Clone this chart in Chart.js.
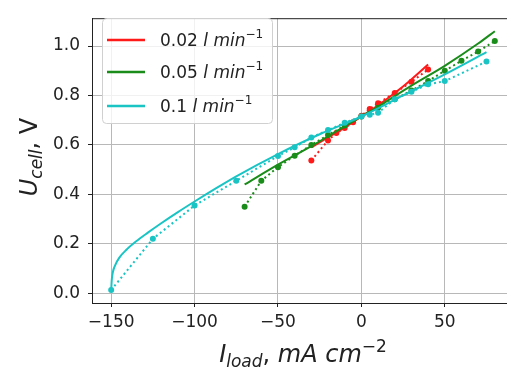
<!DOCTYPE html>
<html>
<head>
<meta charset="utf-8">
<script src="https://cdn.jsdelivr.net/npm/chart.js@4"></script>
<style>
  html, body { margin: 0; padding: 0; background: #fff; overflow: hidden; }
  #wrap { position: absolute; left: 0; top: 0; width: 520px; height: 374px; }
</style>
</head>
<body>
<div id="wrap"><canvas id="chart" width="520" height="374"></canvas></div>
<script>
// measured points, 0.02 l/min
const redX = [-30, -20, -15, -10, -5, 0, 5, 10, 20, 30, 40];
const redY = [0.537, 0.618, 0.648, 0.668, 0.692, 0.718, 0.745, 0.768, 0.81, 0.855, 0.905];
// fit curve
const redFitX = [-30, -20, -10, 0, 10, 20, 30, 40];
const redFitY = [0.59, 0.63, 0.67, 0.715, 0.76, 0.81, 0.865, 0.925];

// 0.05 l/min
const greenX = [-70, -60, -50, -40, -30, -20, -10, 0, 10, 20, 30, 40, 50, 60, 70, 80];
const greenY = [0.35, 0.455, 0.51, 0.556, 0.6, 0.64, 0.678, 0.715, 0.75, 0.785, 0.82, 0.858, 0.9, 0.94, 0.978, 1.02];
const greenFitX = [-70, -50, -30, -10, 0, 10, 30, 50, 70, 80];
const greenFitY = [0.44, 0.52, 0.595, 0.675, 0.715, 0.755, 0.84, 0.92, 1.01, 1.06];

// 0.1 l/min
const cyanX = [-150, -125, -100, -75, -50, -40, -30, -20, -10, 0, 5, 10, 20, 30, 40, 50, 75];
const cyanY = [0.013, 0.22, 0.355, 0.455, 0.555, 0.59, 0.63, 0.66, 0.69, 0.715, 0.722, 0.73, 0.785, 0.815, 0.845, 0.858, 0.937];
const cyanFitX = [-150, -149.7, -149, -147.5, -145, -141, -135, -128, -120, -110, -100, -88, -75, -50, -25, 0, 25, 50, 75];
const cyanFitY = [0.01, 0.05, 0.085, 0.115, 0.145, 0.175, 0.21, 0.245, 0.283, 0.328, 0.371, 0.421, 0.473, 0.563, 0.643, 0.715, 0.8, 0.885, 0.975];

const seriesLabels = ['0.02', '0.05', '0.1'];
const seriesColors = ['#ff1a1a', '#1a8c1a', '#1ac4c4'];

const xTicks = [-150, -100, -50, 0, 50];
const yTicks = [0.0, 0.2, 0.4, 0.6, 0.8, 1.0];

const FONT = '"DejaVu Sans", sans-serif';

function pts(xs, ys) {
  return xs.map((x, i) => ({ x: x, y: ys[i] }));
}

function measured(xs, ys, color, order) {
  return {
    data: pts(xs, ys),
    showLine: true,
    borderColor: color,
    backgroundColor: color,
    borderWidth: 2,
    borderDash: [2, 3],
    pointRadius: 3,
    pointBorderWidth: 0,
    pointHoverRadius: 3,
    order: order
  };
}

function fit(xs, ys, color, order) {
  return {
    data: pts(xs, ys),
    showLine: true,
    borderColor: color,
    backgroundColor: color,
    borderWidth: 2,
    pointRadius: 0,
    cubicInterpolationMode: 'monotone',
    order: order
  };
}

// draw a run of text pieces (italic / sub / superscript), centred on cx
function richText(ctx, parts, cx, y) {
  let total = 0;
  parts.forEach(p => {
    ctx.font = (p.it ? 'italic ' : '') + p.size + 'px ' + FONT;
    p.w = ctx.measureText(p.t).width;
    total += p.w;
  });
  let x = cx - total / 2;
  ctx.textAlign = 'left';
  ctx.textBaseline = 'alphabetic';
  parts.forEach(p => {
    ctx.font = (p.it ? 'italic ' : '') + p.size + 'px ' + FONT;
    ctx.fillText(p.t, x, y + (p.dy || 0));
    x += p.w;
  });
  return total;
}

const extras = {
  id: 'extras',
  afterDraw(chart) {
    const ctx = chart.ctx;
    const a = chart.chartArea;
    ctx.save();
    // frame (top and right spines)
    ctx.strokeStyle = '#222';
    ctx.lineWidth = 1;
    ctx.beginPath();
    ctx.moveTo(a.left, a.top + 0.5);
    ctx.lineTo(a.right, a.top + 0.5);
    ctx.lineTo(a.right, a.bottom);
    ctx.stroke();

    ctx.fillStyle = '#222';
    // x axis title
    richText(ctx, [
      { t: 'I', it: true, size: 24 },
      { t: 'load', it: true, size: 17, dy: 5 },
      { t: ', ', it: false, size: 24 },
      { t: 'mA', it: true, size: 24 },
      { t: ' cm', it: true, size: 24 },
      { t: '\u22122', it: false, size: 17, dy: -10 }
    ], (a.left + a.right) / 2, 362);

    // y axis title
    ctx.save();
    ctx.translate(37, 157);
    ctx.rotate(-Math.PI / 2);
    richText(ctx, [
      { t: 'U', it: true, size: 24 },
      { t: 'cell', it: true, size: 17, dy: 5 },
      { t: ', V', it: false, size: 24 }
    ], 0, 0);
    ctx.restore();

    // legend box
    const bx = 102.5, by = 18.5, bw = 170, bh = 105, r = 4;
    ctx.beginPath();
    ctx.roundRect(bx, by, bw, bh, r);
    ctx.fillStyle = 'rgba(255,255,255,0.8)';
    ctx.fill();
    ctx.strokeStyle = '#d0d0d0';
    ctx.stroke();
    const rows = [40, 72, 106];
    seriesLabels.forEach((lab, i) => {
      const yy = rows[i];
      ctx.strokeStyle = seriesColors[i];
      ctx.lineWidth = 2.5;
      ctx.beginPath();
      ctx.moveTo(107, yy);
      ctx.lineTo(145, yy);
      ctx.stroke();
      ctx.fillStyle = '#222';
      const parts = [
        { t: lab + ' ', it: false, size: 17 },
        { t: 'l min', it: true, size: 17 },
        { t: '\u22121', it: false, size: 12, dy: -8 }
      ];
      let w = 0;
      parts.forEach(p => {
        ctx.font = (p.it ? 'italic ' : '') + p.size + 'px ' + FONT;
        w += ctx.measureText(p.t).width;
      });
      richText(ctx, parts, 160 + w / 2, yy + 6);
    });
    ctx.restore();
  }
};

new Chart(document.getElementById('chart'), {
  type: 'scatter',
  data: {
    datasets: [
      fit(redFitX, redFitY, seriesColors[0], 5),
      measured(redX, redY, seriesColors[0], 6),
      fit(greenFitX, greenFitY, seriesColors[1], 3),
      measured(greenX, greenY, seriesColors[1], 4),
      fit(cyanFitX, cyanFitY, seriesColors[2], 1),
      measured(cyanX, cyanY, seriesColors[2], 2)
    ]
  },
  options: {
    responsive: false,
    animation: false,
    layout: { padding: { top: 10, right: 6, left: 0, bottom: 0 } },
    plugins: {
      legend: { display: false },
      tooltip: { enabled: false }
    },
    scales: {
      x: {
        type: 'linear',
        min: -161.5,
        max: 91.5,
        afterBuildTicks: s => { s.ticks = xTicks.map(v => ({ value: v })); },
        afterFit: s => { s.height = 71; },
        grid: { color: '#b8b8b8', lineWidth: 1, tickColor: '#222', tickLength: 4 },
        border: { color: '#222', width: 1 },
        ticks: {
          color: '#222',
          padding: 5,
          font: { family: FONT, size: 17 },
          maxRotation: 0,
          callback: v => String(v).replace('-', '\u2212')
        }
      },
      y: {
        type: 'linear',
        min: -0.0395,
        max: 1.1125,
        afterBuildTicks: s => { s.ticks = yTicks.map(v => ({ value: v })); },
        afterFit: s => { s.width = 92; },
        grid: { color: '#b8b8b8', lineWidth: 1, tickColor: '#222', tickLength: 4 },
        border: { color: '#222', width: 1 },
        ticks: {
          color: '#222',
          padding: 8,
          font: { family: FONT, size: 17 },
          callback: v => v.toFixed(1)
        }
      }
    }
  },
  plugins: [extras]
});
</script>
</body>
</html>
